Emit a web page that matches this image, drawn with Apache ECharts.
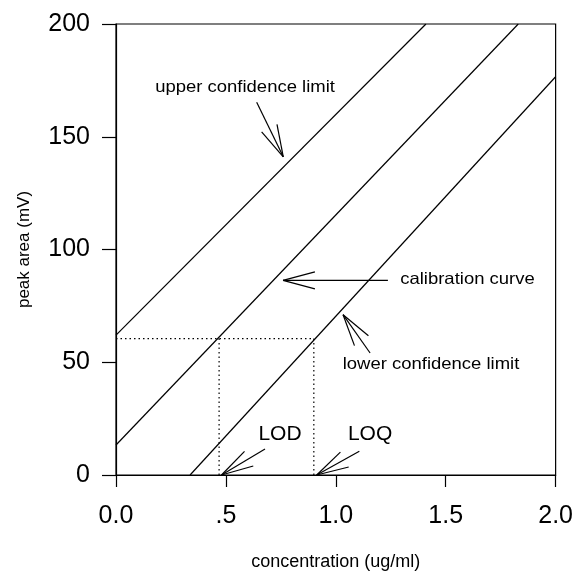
<!DOCTYPE html>
<html>
<head>
<meta charset="utf-8">
<script src="https://cdn.jsdelivr.net/npm/echarts@6/dist/echarts.min.js"></script>
<style>
html,body{margin:0;padding:0;background:#fff;overflow:hidden;}
#chart{width:576px;height:576px;}
</style>
</head>
<body>
<div id="chart"></div>
<script>
// ---- data ----
const xTickLabels = ['0.0', '.5', '1.0', '1.5', '2.0'];
const yTickValues = [0, 50, 100, 150, 200];

const upperX = [0, 1.41];
const upperY = [62, 200];
const calibrationX = [0, 1.83];
const calibrationY = [13.3, 200];
const lowerX = [0.337, 2.0];
const lowerY = [0, 176.6];

const detectionLevel = 60.5;   // peak area at the upper limit intercept
const lodX = 0.469;
const loqX = 0.90;

const annotationText = ['upper confidence limit', 'calibration curve', 'lower confidence limit', 'LOD', 'LOQ'];
const annotationX = [0.587, 1.599, 1.433, 0.746, 1.156];
const annotationY = [171.7, 86.7, 48.9, 18.0, 18.2];
const arrowTipX = [0.761, 0.760, 1.033, 0.48, 0.913];
const arrowTipY = [141.1, 86.3, 71.1, 0, 0];
const arrowTailX = [0.640, 1.237, 1.156, 0.678, 1.107];
const arrowTailY = [165.3, 86.3, 54.1, 11.5, 10.5];

// ---- chart ----
const zip = (a, b) => a.map((v, i) => [v, b[i]]);
const FONT = 'Liberation Sans, Arial, sans-serif';
const chart = echarts.init(document.getElementById('chart'), null, {renderer: 'canvas', width: 576, height: 576});

const solid = {color: '#000', width: 1.2};
const dotted = {color: '#000', width: 1.2, type: [1.5, 3]};

chart.setOption({
  animation: false,
  backgroundColor: '#fff',
  grid: {left: 116, top: 24, width: 440, height: 458, show: true, borderColor: '#000', borderWidth: 1.2, backgroundColor: 'transparent'},
  xAxis: {
    type: 'value', min: 0, max: 2, interval: 0.5,
    name: 'concentration (ug/ml)', nameLocation: 'middle', nameGap: 78,
    nameTextStyle: {color: '#000', fontSize: 18, fontFamily: FONT},
    axisLine: {lineStyle: {color: '#000', width: 1.2}},
    axisTick: {length: 12, lineStyle: {color: '#000', width: 1.2}},
    axisLabel: {color: '#000', fontSize: 25, fontFamily: FONT, margin: 29,
      formatter: v => xTickLabels[Math.round(v / 0.5)]},
    splitLine: {show: false}
  },
  yAxis: {
    type: 'value', min: 0, max: 200, interval: 50,
    name: 'peak area (mV)', nameLocation: 'middle', nameGap: 83,
    nameTextStyle: {color: '#000', fontSize: 17, fontFamily: FONT},
    axisLine: {lineStyle: {color: '#000', width: 1.2}},
    axisTick: {length: 14, lineStyle: {color: '#000', width: 1.2}},
    axisLabel: {color: '#000', fontSize: 25, fontFamily: FONT, margin: 26,
      formatter: v => yTickValues.includes(v) ? String(v) : ''},
    splitLine: {show: false}
  },
  series: [
    {name: 'upper confidence limit', type: 'line', data: zip(upperX, upperY), symbol: 'none', lineStyle: solid},
    {name: 'calibration curve', type: 'line', data: zip(calibrationX, calibrationY), symbol: 'none', lineStyle: solid},
    {name: 'lower confidence limit', type: 'line', data: zip(lowerX, lowerY), symbol: 'none', lineStyle: solid},
    {name: 'level', type: 'line', data: [[0, detectionLevel], [loqX, detectionLevel]], symbol: 'none', lineStyle: dotted},
    {name: 'LOD drop', type: 'line', data: [[lodX, 0], [lodX, detectionLevel]], symbol: 'none', lineStyle: dotted},
    {name: 'LOQ drop', type: 'line', data: [[loqX, 0], [loqX, detectionLevel]], symbol: 'none', lineStyle: dotted}
  ]
});

// annotations with open arrowheads
const px = (x, y) => chart.convertToPixel({gridIndex: 0}, [x, y]);
const graphics = [];
const BARB = 33, HALF = 15 * Math.PI / 180;
annotationText.forEach((t, i) => {
  const c = px(annotationX[i], annotationY[i]);
  const big = t.length <= 3;
  graphics.push({
    type: 'text', x: c[0], y: c[1], scaleX: big ? 1 : 1.12,
    style: {text: t, fill: '#000', fontSize: big ? 21 : 16.5, fontFamily: FONT, align: 'center', verticalAlign: 'middle'}
  });
  const tip = px(arrowTipX[i], arrowTipY[i]);
  const tail = px(arrowTailX[i], arrowTailY[i]);
  graphics.push({type: 'line', shape: {x1: tail[0], y1: tail[1], x2: tip[0], y2: tip[1]}, style: {stroke: '#000', lineWidth: 1.2}});
  const ang = Math.atan2(tail[1] - tip[1], tail[0] - tip[0]);
  [ang - HALF, ang + HALF].forEach(a => {
    graphics.push({type: 'line', shape: {x1: tip[0], y1: tip[1], x2: tip[0] + BARB * Math.cos(a), y2: tip[1] + BARB * Math.sin(a)}, style: {stroke: '#000', lineWidth: 1.2}});
  });
});
chart.setOption({graphic: graphics});
</script>
</body>
</html>
